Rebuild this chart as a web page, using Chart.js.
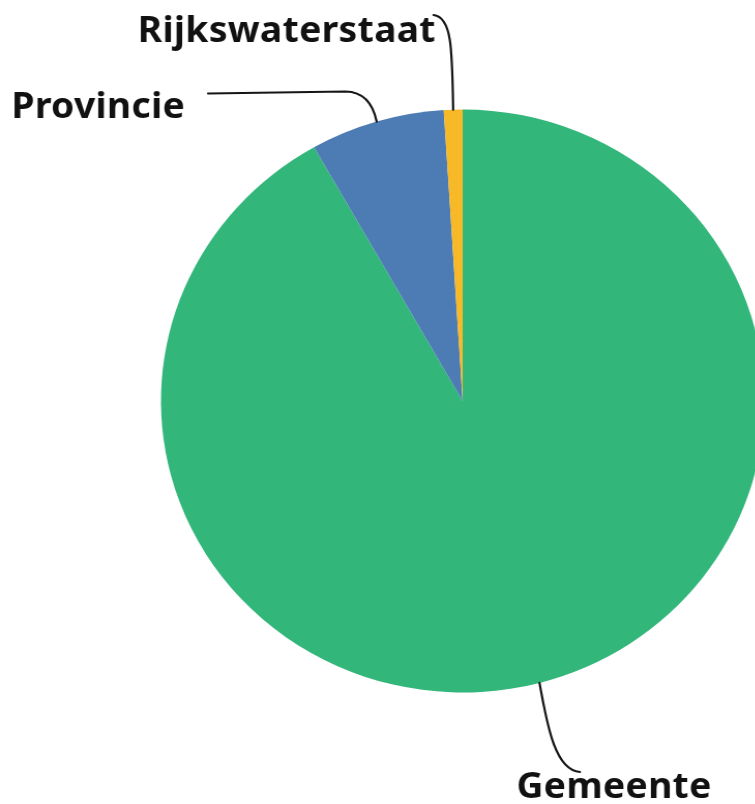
<!DOCTYPE html>
<html>
<head>
<meta charset="utf-8">
<script src="https://cdn.jsdelivr.net/npm/chart.js@4"></script>
<style>
  html, body { margin: 0; padding: 0; background: #fff; overflow: hidden; }
  #wrap {
    width: 760px;
    height: 804px;
    transform: scaleX(1.035);
    transform-origin: 0 0;
  }
</style>
</head>
<body>
<div id="wrap">
  <canvas id="pieChart" width="760" height="804"></canvas>
</div>
<script>
const categories = ["Gemeente", "Provincie", "Rijkswaterstaat"];
const shares = [91.8, 7.2, 1.0];
const sliceColors = ["#33b67a", "#4d7bb4", "#f7b927"];

// text placement for each slice label
const labelLayout = {
  Gemeente: { x: 499, y: 798 },
  Provincie: { x: 11, y: 118 },
  Rijkswaterstaat: { x: 133, y: 42 }
};

const leaderLines = {
  id: "leaderLines",
  afterDatasetsDraw(chart) {
    const ctx = chart.ctx;
    const arcs = chart.getDatasetMeta(0).data;
    ctx.save();
    ctx.strokeStyle = "#151515";
    ctx.lineWidth = 2.2;
    ctx.lineCap = "round";
    arcs.forEach((arc, i) => {
      const p = arc.getProps(["x", "y", "startAngle", "endAngle", "outerRadius"], true);
      const mid = (p.startAngle + p.endAngle) / 2;
      const sx = p.x + Math.cos(mid) * p.outerRadius;
      const sy = p.y + Math.sin(mid) * p.outerRadius;
      const name = categories[i];
      ctx.beginPath();
      ctx.moveTo(sx, sy);
      if (name === "Rijkswaterstaat") {
        ctx.bezierCurveTo(sx - 1, 50, sx - 1, 17, sx - 19, 15);
      } else if (name === "Provincie") {
        ctx.quadraticCurveTo(sx - 6, 92, sx - 30, 91.5);
        ctx.lineTo(201, 93.5);
      } else {
        ctx.bezierCurveTo(sx + 8, 730, sx + 16, 770, sx + 39, 772);
      }
      ctx.stroke();
    });

    ctx.fillStyle = "#111";
    ctx.font = "bold 36px 'Noto Sans'";
    ctx.letterSpacing = "0.3px";
    ctx.textBaseline = "alphabetic";
    categories.forEach(name => {
      const pos = labelLayout[name];
      ctx.fillText(name, pos.x, pos.y);
    });
    ctx.restore();
  }
};

new Chart(document.getElementById("pieChart"), {
  type: "pie",
  data: {
    labels: categories,
    datasets: [{
      data: shares,
      backgroundColor: sliceColors,
      borderWidth: 0
    }]
  },
  options: {
    responsive: false,
    animation: false,
    layout: {
      padding: { left: 155.5, right: 21.5, top: 109.5, bottom: 111.5 }
    },
    plugins: {
      legend: { display: false },
      tooltip: { enabled: false }
    }
  },
  plugins: [leaderLines]
});
</script>
</body>
</html>
